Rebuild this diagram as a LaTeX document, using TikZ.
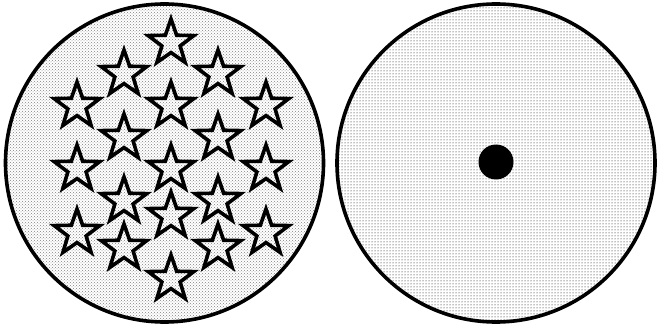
\documentclass[tikz,border=0pt]{standalone}
\usepackage{tikz}
\usetikzlibrary{
  shapes.geometric,
  patterns
}

\begin{document}
\begin{tikzpicture}[
  x=1pt, y=-1pt,
  rim/.style={line width=3.6pt},
  starmark/.style={star,star points=5,star point ratio=2.5,draw,
                   line width=3.6pt,inner sep=0pt,minimum size=48pt,
                   line join=miter},
]
\useasboundingbox (0,0) rectangle (657,329);

% left disc with the stars
\draw[rim,pattern=crosshatch dots,pattern color=gray] (164.5,163) circle (159);
\foreach \n/\px/\py in {a/171/43, b/124/74, c/218/74, d/77/106, e/171/106,
    f/266/106, g/124/138, h/218/138, i/77/169, j/171/169, k/266/169,
    l/124/201, m/218/201, n/171/216, o/77/233, p/266/233, q/124/248,
    r/218/248, s/171/279}
  \node[starmark] (st-\n) at (\px,\py) {};

% right disc with the dot
\draw[rim,pattern=dots] (496,163) circle (159);
\fill (496,162) circle (17.5);
\end{tikzpicture}
\end{document}
